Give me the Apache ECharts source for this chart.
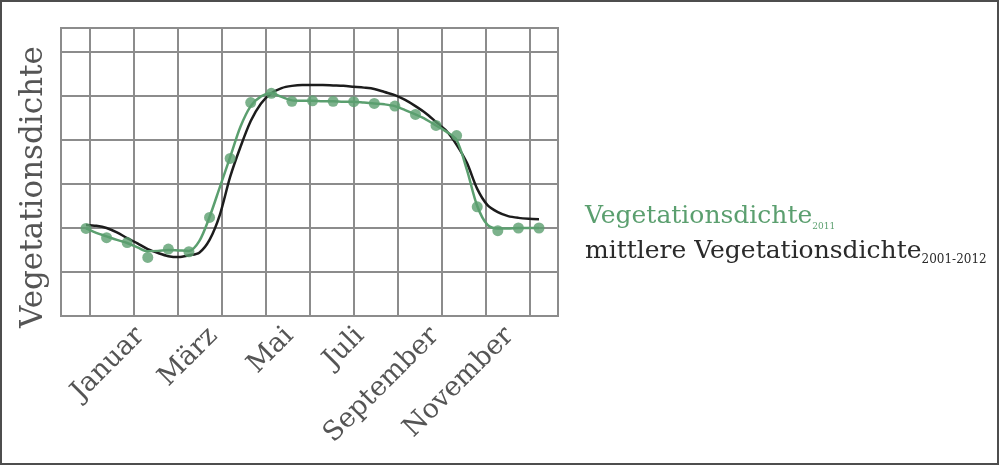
<!DOCTYPE html>
<html>
<head>
<meta charset="utf-8">
<script src="https://cdn.jsdelivr.net/npm/echarts@6/dist/echarts.min.js"></script>
<style>
html,body{margin:0;padding:0;background:#fff;}
#chart{width:1000px;height:466px;}
</style>
</head>
<body>
<div id="chart"></div>
<script>
// Day of year of each 16-day composite (green dots)
const compositeDays = [1,17,33,49,65,81,97,113,129,145,161,177,193,209,225,241,257,273,289,305,321,337,353];
// Vegetation density 2011 (measured points)
const vegDensity2011Points = [0.199,0.178,0.167,0.133,0.152,0.146,0.224,0.358,0.485,0.506,0.488,0.489,0.488,0.487,0.483,0.477,0.458,0.433,0.410,0.248,0.194,0.200,0.200];
// Curves every 8 days
const curveDays = [1,9,17,25,33,41,49,57,65,73,81,89,97,105,113,121,129,137,145,153,161,169,177,185,193,201,209,217,225,233,241,249,257,265,273,281,289,297,305,313,321,329,337,345,353];
// Vegetation density 2011 (smoothed curve)
const vegDensity2011Curve = [0.199,0.189,0.181,0.173,0.166,0.156,0.147,0.148,0.150,0.149,0.148,0.170,0.225,0.293,0.361,0.430,0.477,0.499,0.506,0.498,0.490,0.489,0.489,0.488,0.488,0.487,0.487,0.485,0.483,0.481,0.477,0.468,0.458,0.447,0.433,0.419,0.400,0.332,0.250,0.207,0.199,0.199,0.200,0.200,0.200];
// Mean vegetation density 2001-2012
const vegDensityMean = [0.207,0.205,0.200,0.190,0.177,0.165,0.152,0.143,0.136,0.134,0.138,0.144,0.173,0.230,0.316,0.384,0.443,0.483,0.506,0.518,0.523,0.525,0.525,0.525,0.524,0.523,0.521,0.519,0.516,0.509,0.502,0.491,0.477,0.461,0.441,0.421,0.389,0.348,0.289,0.252,0.236,0.227,0.223,0.221,0.220];
// Month tick labels and where they sit (day of year)
const monthLabels = ['Januar','März','Mai','Juli','September','November'];
const monthLabelDays = [43,100,159,214,272,330];
const yAxisTitle = 'Vegetationsdichte';
const legendMain = ['Vegetationsdichte','mittlere Vegetationsdichte'];
const legendSub = ['2011','2001-2012'];

const FONT = '"DejaVu Serif", "Liberation Serif", serif';
const GREEN = '#5b9f6f';
const BLACK = '#1c1c1c';
const GRIDC = '#8c8c8c';

const chart = echarts.init(document.getElementById('chart'), null, {renderer:'canvas'});
const option = {
  backgroundColor:'#ffffff',
  animation:false,
  grid:[
    {left:61, right:442, top:28, bottom:150, show:true, borderColor:GRIDC, borderWidth:2, backgroundColor:'transparent'},
    {left:90, right:470, top:28, bottom:150, show:false}
  ],
  xAxis:[
    {type:'value', gridIndex:0, min:-18.43, max:367.77,
     axisLine:{show:false}, axisTick:{show:false}, splitLine:{show:false},
     axisLabel:{show:true, customValues:monthLabelDays, rotate:45, margin:16,
       fontFamily:FONT, fontSize:27, color:'#555555',
       formatter:function(v){ const i = monthLabelDays.indexOf(v); return i>=0 ? monthLabels[i] : ''; }}
    },
    {type:'value', gridIndex:1, min:0, max:10, interval:1,
     axisLine:{show:false}, axisTick:{show:false}, axisLabel:{show:false},
     splitLine:{show:true, lineStyle:{color:GRIDC, width:2}}
    }
  ],
  yAxis:[
    {type:'value', gridIndex:0, min:0, max:0.6545, interval:0.1,
     axisLine:{show:false}, axisTick:{show:false}, axisLabel:{show:false},
     splitLine:{show:true, lineStyle:{color:GRIDC, width:2}}
    },
    {type:'value', gridIndex:1, min:0, max:1, show:false}
  ],
  series:[
    {name:'mittlere Vegetationsdichte', type:'line', xAxisIndex:0, yAxisIndex:0,
     data:curveDays.map((d,i)=>[d, vegDensityMean[i]]),
     smooth:0.3, showSymbol:false, symbol:'none',
     lineStyle:{color:BLACK, width:2.5}, z:3, silent:true},
    {name:'Vegetationsdichte 2011', type:'line', xAxisIndex:0, yAxisIndex:0,
     data:curveDays.map((d,i)=>[d, vegDensity2011Curve[i]]),
     smooth:0.3, showSymbol:false, symbol:'none',
     lineStyle:{color:GREEN, width:2.5}, z:4, silent:true},
    {name:'Vegetationsdichte 2011 Punkte', type:'scatter', xAxisIndex:0, yAxisIndex:0,
     data:compositeDays.map((d,i)=>[d, vegDensity2011Points[i]]),
     symbol:'circle', symbolSize:11, itemStyle:{color:GREEN}, z:5, silent:true}
  ],
  graphic:[
    {type:'rect', silent:true, shape:{x:1, y:1, width:997, height:463},
     style:{fill:'none', stroke:'#4d4d4d', lineWidth:2}},
    {type:'text', silent:true, x:34, y:187, rotation:Math.PI/2,
     style:{text:yAxisTitle, fontFamily:FONT, fontSize:31, fill:'#555555', align:'center', verticalAlign:'middle'}},
    {type:'text', silent:true, x:585, y:201,
     style:{text:'{m|'+legendMain[0]+'}{s|'+legendSub[0]+'}', align:'left', verticalAlign:'top',
       rich:{
         m:{fontFamily:FONT, fontSize:25, fill:GREEN, lineHeight:30, verticalAlign:'middle'},
         s:{fontFamily:FONT, fontSize:9, fill:GREEN, lineHeight:1, verticalAlign:'bottom'}
       }}},
    {type:'text', silent:true, x:585, y:236,
     style:{text:'{m|'+legendMain[1]+'}{s|'+legendSub[1]+'}', align:'left', verticalAlign:'top',
       rich:{
         m:{fontFamily:FONT, fontSize:25, fill:'#2a2a2a', lineHeight:30, verticalAlign:'middle'},
         s:{fontFamily:FONT, fontSize:12, fill:'#2a2a2a', lineHeight:5, verticalAlign:'bottom'}
       }}}
  ]
};
chart.setOption(option);
</script>
</body>
</html>
